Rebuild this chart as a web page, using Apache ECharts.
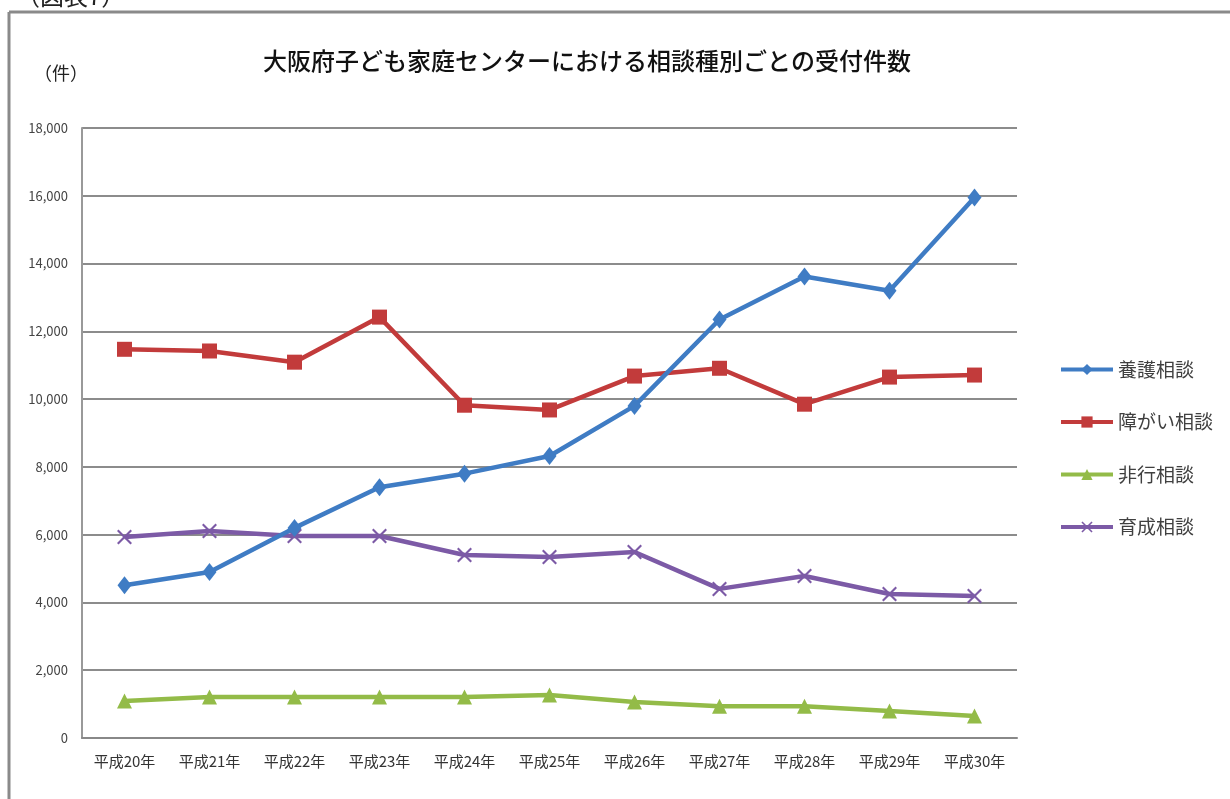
<!DOCTYPE html>
<html>
<head>
<meta charset="utf-8">
<script src="https://cdn.jsdelivr.net/npm/echarts@6/dist/echarts.min.js"></script>
<style>
html,body{margin:0;padding:0;background:#fff;}
#c{width:1230px;height:799px;}
</style>
</head>
<body>
<div id="c"></div>
<script>
const categories = ['平成20年','平成21年','平成22年','平成23年','平成24年','平成25年','平成26年','平成27年','平成28年','平成29年','平成30年'];
const yogo    = [4510, 4900, 6200, 7400, 7800, 8320, 9800, 12350, 13620, 13200, 15950];
const shogai  = [11470, 11420, 11090, 12420, 9820, 9680, 10680, 10910, 9850, 10650, 10710];
const hiko    = [1090, 1210, 1210, 1210, 1210, 1270, 1060, 940, 940, 800, 650];
const ikusei  = [5930, 6110, 5960, 5960, 5400, 5340, 5490, 4400, 4780, 4250, 4190];
const seriesNames = ['養護相談','障がい相談','非行相談','育成相談'];
const yTicks = [0, 2000, 4000, 6000, 8000, 10000, 12000, 14000, 16000, 18000];

const font = '"Noto Sans CJK JP", "Noto Sans", sans-serif';
const xSym = 'path://M0,1 L1,0 L5,4 L9,0 L10,1 L6,5 L10,9 L9,10 L5,6 L1,10 L0,9 L4,5 Z';

const chart = echarts.init(document.getElementById('c'));
const colors = ['#3f7cc4', '#c23b3b', '#93bb48', '#7c5aa6'];
const datas = [yogo, shogai, hiko, ikusei];
const symbols = ['diamond', 'rect', 'triangle', xSym];
const sizes = [[14,18], 15, 15, 15];

chart.setOption({
  animation: false,
  backgroundColor: '#fff',
  title: {
    text: '大阪府子ども家庭センターにおける相談種別ごとの受付件数',
    left: 582, top: 44, textAlign: 'center',
    textStyle: { fontFamily: font, fontSize: 24, fontWeight: 500, color: '#111' }
  },
  graphic: [
    { type: 'line', shape: { x1: 9, y1: 12, x2: 9, y2: 799 }, style: { stroke: '#8a8a8a', lineWidth: 3 } },
    { type: 'line', shape: { x1: 9, y1: 12, x2: 1230, y2: 12 }, style: { stroke: '#8a8a8a', lineWidth: 3 } },
    { type: 'text', left: 16, top: -16, style: { text: '（図表7）', font: '24px ' + font, fill: '#222' } },
    { type: 'text', left: 34, top: 64, style: { text: '（件）', font: '18px ' + font, fill: '#222' } }
  ],
  legend: {
    orient: 'vertical',
    left: 1054, top: 355,
    itemWidth: 52, itemHeight: 14, itemGap: 33.5,
    lineStyle: { width: 4 },
    textStyle: { fontFamily: font, fontSize: 19, color: '#404040' },
    data: seriesNames
  },
  grid: { left: 82, right: 213, top: 128, bottom: 61, containLabel: false },
  xAxis: {
    type: 'category', data: categories, boundaryGap: true,
    axisLine: { lineStyle: { color: '#888', width: 2 } },
    axisTick: { show: false },
    axisLabel: { fontFamily: font, fontSize: 15, color: '#333', margin: 16 }
  },
  yAxis: {
    type: 'value', min: 0, max: 18000, interval: 2000,
    axisLine: { show: true, lineStyle: { color: '#999', width: 2 } },
    axisTick: { show: false },
    axisLabel: { fontFamily: font, fontSize: 13, color: '#444', margin: 14,
      formatter: v => yTicks.includes(v) ? v.toLocaleString('en-US') : '' },
    splitLine: { lineStyle: { color: '#8c8c8c', width: 2 } }
  },
  series: seriesNames.map((n, i) => ({
    name: n, type: 'line', data: datas[i],
    symbol: symbols[i], symbolSize: sizes[i],
    lineStyle: { width: 4.5, color: colors[i] },
    itemStyle: { color: colors[i] },
    z: 5 - i
  }))
});
</script>
</body>
</html>
